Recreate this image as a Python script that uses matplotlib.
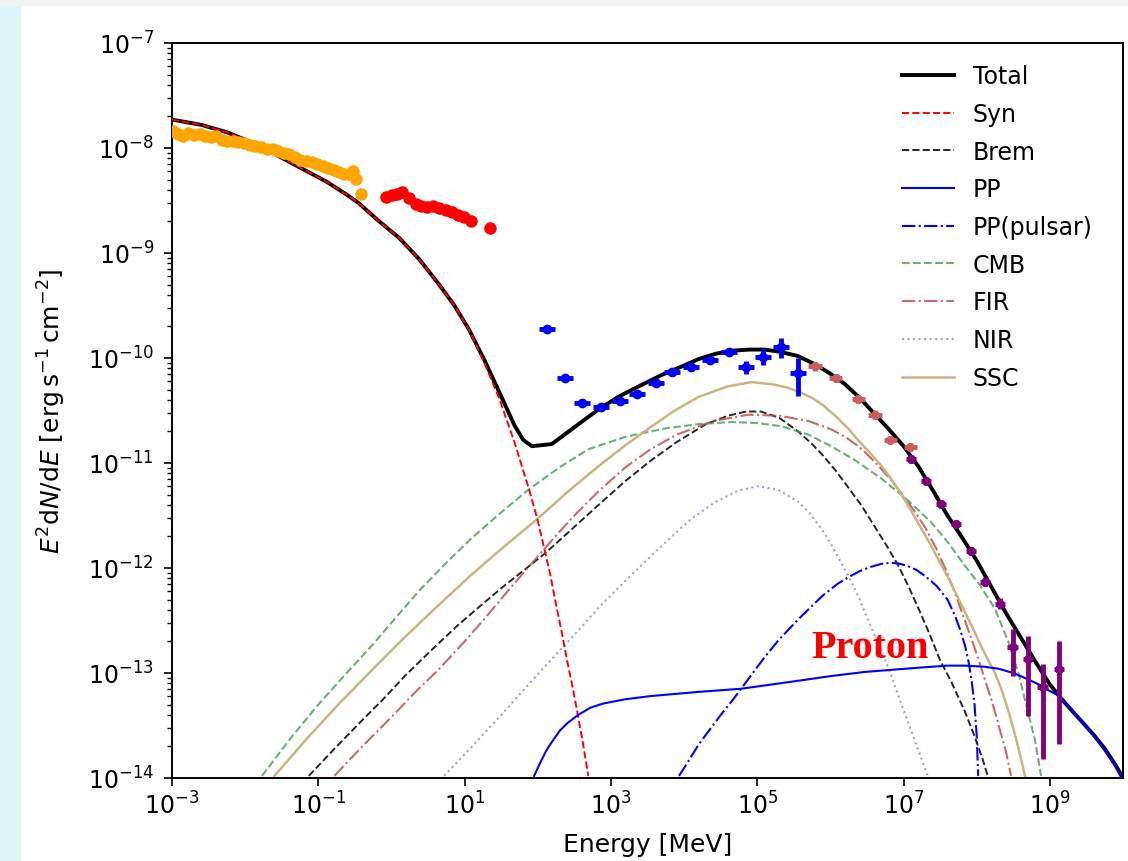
import matplotlib
matplotlib.use("Agg")
import matplotlib.pyplot as plt
from matplotlib.patches import Rectangle
import numpy as np

# ---------------------------------------------------------------------------
# Model curves as (log10 E [MeV], log10 E^2 dN/dE)
# ---------------------------------------------------------------------------

total_logE = [-3.0, -2.6, -2.25, -1.8, -1.35, -0.89, -0.6, -0.44, -0.2, 0.11, 0.38, 0.65,
              0.86, 1.06, 1.27, 1.47, 1.68, 1.8, 1.92, 2.19, 2.5, 2.83, 3.1, 3.38, 3.7, 3.97,
              4.2, 4.43, 4.65, 4.9, 5.1, 5.3, 5.55, 5.79, 6.0, 6.2, 6.4, 6.6, 6.8, 7.0,
              7.2, 7.4, 7.6, 7.8, 8.0, 8.2, 8.4, 8.6, 8.8, 9.0, 9.2, 9.42, 9.6, 9.75, 9.9,
              10.0]
total_logF = [-7.73, -7.78, -7.85, -7.98, -8.15, -8.32, -8.45, -8.53, -8.68, -8.86, -9.06,
              -9.3, -9.5, -9.73, -10.02, -10.32, -10.64, -10.78, -10.84, -10.82, -10.66,
              -10.49, -10.37, -10.27, -10.16, -10.08, -10.01, -9.96, -9.93, -9.92, -9.92,
              -9.94, -9.98, -10.06, -10.15, -10.25, -10.38, -10.53, -10.68, -10.84, -11.03,
              -11.26, -11.5, -11.71, -11.93, -12.18, -12.43, -12.66, -12.89, -13.11, -13.28,
              -13.45, -13.59, -13.72, -13.88, -14.0]

syn_logE = [-3.0, -2.6, -2.25, -1.8, -1.35, -0.89, -0.6, -0.44, -0.2, 0.11, 0.38, 0.65,
            0.86, 1.06, 1.27, 1.47, 1.68, 1.88, 2.0, 2.08, 2.17, 2.25, 2.33, 2.4, 2.48,
            2.55, 2.62, 2.69]
syn_logF = [-7.73, -7.78, -7.85, -7.98, -8.15, -8.32, -8.45, -8.53, -8.68, -8.86, -9.06,
            -9.3, -9.5, -9.73, -10.05, -10.38, -10.8, -11.25, -11.55, -11.79, -12.06,
            -12.35, -12.62, -12.88, -13.15, -13.41, -13.68, -13.98]

brem_logE = [-1.13, -0.75, -0.4, -0.1, 0.18, 0.55, 0.9, 1.2, 1.54, 1.85, 2.1, 2.45, 2.83,
             3.2, 3.54, 3.9, 4.3, 4.6, 4.85, 5.05, 5.3, 5.56, 5.75, 5.9, 6.08, 6.24, 6.42,
             6.6, 6.78, 6.93, 7.07, 7.2, 7.35, 7.5, 7.65, 7.84, 7.98, 8.08, 8.15]
brem_logF = [-13.98, -13.7, -13.45, -13.24, -13.03, -12.78, -12.55, -12.37, -12.17, -12.0,
             -11.86, -11.64, -11.4, -11.17, -10.98, -10.8, -10.63, -10.55, -10.51, -10.51,
             -10.57, -10.7, -10.82, -10.93, -11.08, -11.23, -11.4, -11.6, -11.8, -11.98,
             -12.18, -12.38, -12.62, -12.88, -13.08, -13.37, -13.62, -13.82, -13.98]

pp_logE = [1.95, 2.03, 2.1, 2.16, 2.22, 2.3, 2.4, 2.55, 2.72, 2.9, 3.2, 3.54, 4.2, 4.78,
           5.5, 6.0, 6.47, 7.2, 7.6, 7.84, 8.1, 8.3, 8.5, 8.7, 8.85, 8.97, 9.1, 9.25, 9.42,
           9.6, 9.75, 9.88, 9.98]
pp_logF = [-13.98, -13.86, -13.76, -13.69, -13.63, -13.55, -13.48, -13.4, -13.33, -13.29,
           -13.25, -13.22, -13.18, -13.15, -13.08, -13.03, -12.99, -12.95, -12.93, -12.93,
           -12.94, -12.96, -13.0, -13.06, -13.11, -13.16, -13.21, -13.31, -13.45, -13.6,
           -13.74, -13.87, -14.0]

psr_logE = [3.93, 4.05, 4.2, 4.35, 4.5, 4.65, 4.78, 4.95, 5.1, 5.3, 5.56, 5.75, 5.9, 6.1,
            6.24, 6.4, 6.55, 6.7, 6.83, 6.95, 7.05, 7.18, 7.3, 7.45, 7.6, 7.7, 7.78, 7.84,
            7.89, 7.93, 7.97, 8.0, 8.02]
psr_logF = [-13.98, -13.85, -13.68, -13.54, -13.4, -13.27, -13.15, -12.99, -12.85, -12.68,
            -12.49, -12.36, -12.26, -12.15, -12.09, -12.03, -11.99, -11.96, -11.95, -11.96,
            -11.98, -12.02, -12.08, -12.17, -12.3, -12.45, -12.6, -12.74, -12.9, -13.07,
            -13.3, -13.6, -13.98]

cmb_logE = [-1.77, -1.4, -1.0, -0.6, -0.27, 0.05, 0.4, 0.75, 1.09, 1.5, 1.88, 2.3, 2.69,
            3.2, 3.75, 4.2, 4.65, 5.0, 5.33, 5.7, 6.01, 6.35, 6.7, 7.05, 7.37, 7.6, 7.84,
            8.05, 8.25, 8.42, 8.57, 8.7, 8.8, 8.88]
cmb_logF = [-13.98, -13.64, -13.3, -12.99, -12.74, -12.48, -12.2, -11.95, -11.72, -11.47,
            -11.25, -11.04, -10.87, -10.75, -10.67, -10.63, -10.61, -10.62, -10.65, -10.73,
            -10.84, -10.98, -11.15, -11.35, -11.56, -11.75, -11.98, -12.17, -12.39, -12.68,
            -13.0, -13.37, -13.65, -13.98]

fir_logE = [-0.78, -0.4, 0.0, 0.3, 0.64, 1.0, 1.3, 1.65, 2.0, 2.25, 2.5, 2.83, 3.2, 3.54,
            3.9, 4.4, 4.88, 5.3, 5.7, 6.01, 6.2, 6.4, 6.55, 6.7, 6.85, 6.95, 7.16, 7.3,
            7.45, 7.6, 7.75, 7.9, 8.02, 8.12, 8.22, 8.3, 8.4, 8.47]
fir_logF = [-13.98, -13.7, -13.42, -13.2, -12.97, -12.7, -12.46, -12.17, -11.89, -11.69,
            -11.5, -11.27, -11.04, -10.87, -10.73, -10.6, -10.54, -10.55, -10.6, -10.68,
            -10.75, -10.85, -10.95, -11.06, -11.18, -11.27, -11.47, -11.62, -11.82, -12.05,
            -12.33, -12.62, -12.86, -13.08, -13.3, -13.5, -13.75, -13.98]

nir_logE = [0.72, 1.1, 1.5, 1.95, 2.36, 2.6, 2.83, 3.2, 3.54, 3.8, 4.1, 4.43, 4.75, 5.02,
            5.3, 5.56, 5.72, 5.85, 6.0, 6.1, 6.2, 6.3, 6.4, 6.47, 6.58, 6.7, 6.82, 6.93,
            7.03, 7.13, 7.23, 7.33]
nir_logF = [-13.98, -13.7, -13.4, -13.05, -12.74, -12.56, -12.38, -12.12, -11.89, -11.72,
            -11.53, -11.37, -11.26, -11.22, -11.26, -11.37, -11.48, -11.6, -11.76, -11.89,
            -12.02, -12.15, -12.3, -12.42, -12.6, -12.8, -13.0, -13.22, -13.41, -13.6,
            -13.79, -13.98]

ssc_logE = [-1.6, -1.15, -0.7, -0.25, 0.18, 0.65, 1.1, 1.55, 2.0, 2.4, 2.83, 3.2, 3.54,
            3.85, 4.2, 4.6, 4.92, 5.2, 5.4, 5.56, 5.75, 5.9, 6.08, 6.24, 6.4, 6.55, 6.7,
            6.83, 6.97, 7.1, 7.23, 7.37, 7.5, 7.6, 7.72, 7.84, 7.95, 8.05, 8.15, 8.25, 8.35,
            8.45, 8.55, 8.66]
ssc_logF = [-13.98, -13.62, -13.28, -12.96, -12.66, -12.35, -12.06, -11.79, -11.53, -11.28,
            -11.03, -10.83, -10.66, -10.51, -10.37, -10.27, -10.23, -10.25, -10.28, -10.32,
            -10.38, -10.45, -10.56, -10.67, -10.8, -10.91, -11.03, -11.15, -11.3, -11.45,
            -11.61, -11.78, -11.95, -12.08, -12.25, -12.42, -12.58, -12.73, -12.87, -13.0,
            -13.18, -13.4, -13.66, -13.98]

# ---------------------------------------------------------------------------
# Data points (log10 E, log10 flux), with error half-widths in dex
# ---------------------------------------------------------------------------

xray_logE = [-2.99, -2.92, -2.85, -2.78, -2.70, -2.62, -2.55, -2.47, -2.40, -2.32, -2.25,
             -2.17, -2.10, -2.02, -1.94, -1.86, -1.78, -1.70, -1.62, -1.55, -1.47, -1.40,
             -1.32, -1.25, -1.17, -1.09, -1.02, -0.94, -0.87, -0.79, -0.72, -0.65, -0.58,
             -0.52, -0.48, -0.41]
xray_logF = [-7.84, -7.87, -7.89, -7.86, -7.88, -7.87, -7.89, -7.90, -7.89, -7.92, -7.93,
             -7.93, -7.94, -7.95, -7.97, -7.98, -7.99, -8.01, -8.01, -8.03, -8.05, -8.06,
             -8.09, -8.11, -8.12, -8.13, -8.15, -8.17, -8.19, -8.21, -8.23, -8.25, -8.25,
             -8.22, -8.30, -8.44]

mev_logE = [-0.07, 0.01, 0.08, 0.15, 0.24, 0.33, 0.41, 0.49, 0.57, 0.65, 0.75, 0.83, 0.91,
            0.99, 1.09, 1.34]
mev_logF = [-8.47, -8.45, -8.44, -8.42, -8.48, -8.53, -8.55, -8.56, -8.55, -8.57, -8.59,
            -8.61, -8.64, -8.66, -8.70, -8.76]

lat_logE = [2.13, 2.37, 2.6, 2.86, 3.12, 3.35, 3.61, 3.83, 4.1, 4.36, 4.61, 4.84, 5.08,
            5.33, 5.56]
lat_logF = [-9.72, -10.19, -10.43, -10.47, -10.41, -10.34, -10.24, -10.13, -10.09, -10.02,
            -9.94, -10.09, -9.99, -9.90, -10.14]
lat_err_lo = [0.02, 0.02, 0.02, 0.02, 0.02, 0.02, 0.02, 0.02, 0.02, 0.02, 0.03, 0.06, 0.08,
              0.10, 0.22]
lat_err_hi = [0.02, 0.02, 0.02, 0.02, 0.02, 0.02, 0.02, 0.02, 0.02, 0.02, 0.03, 0.06, 0.08,
              0.09, 0.14]

hess_logE = [5.79, 6.07, 6.38, 6.61, 6.82, 7.09]
hess_logF = [-10.08, -10.19, -10.39, -10.54, -10.78, -10.85]

lhaaso_logE = [7.10, 7.31, 7.51, 7.72, 7.92, 8.11, 8.32, 8.49, 8.70, 8.90, 9.12]
lhaaso_logF = [-10.96, -11.17, -11.39, -11.58, -11.84, -12.13, -12.34, -12.75, -12.87,
               -13.13, -12.96]
lhaaso_err_lo = [0.04, 0.04, 0.04, 0.04, 0.04, 0.04, 0.05, 0.28, 0.54, 0.69, 0.72]
lhaaso_err_hi = [0.04, 0.04, 0.04, 0.04, 0.04, 0.04, 0.05, 0.17, 0.22, 0.22, 0.26]

x_tick_exp = [-3, -1, 1, 3, 5, 7, 9]
y_tick_exp = [-14, -13, -12, -11, -10, -9, -8, -7]


def _lin(logv):
    return 10.0 ** np.asarray(logv, dtype=float)


def _errpoints(ax, logE, logF, color, dx, dlo, dhi, ms=5, elw=2.5, zorder=5):
    """Errorbar points given in log space; errors are half-widths in dex."""
    e = np.asarray(logE, dtype=float)
    f = np.asarray(logF, dtype=float)
    dlo = np.broadcast_to(np.asarray(dlo, dtype=float), f.shape)
    dhi = np.broadcast_to(np.asarray(dhi, dtype=float), f.shape)
    x = 10 ** e
    y = 10 ** f
    xerr = [x - 10 ** (e - dx), 10 ** (e + dx) - x]
    yerr = [y - 10 ** (f - dlo), 10 ** (f + dhi) - y]
    ax.errorbar(x, y, xerr=xerr, yerr=yerr, fmt="o", ms=ms, color=color,
                elinewidth=elw, capsize=0, zorder=zorder)


plt.rcParams["font.family"] = ["DejaVu Sans"]
plt.rcParams["mathtext.fontset"] = "dejavusans"

fig = plt.figure(figsize=(11.28, 8.62), dpi=100)
fig.patches.append(Rectangle((0, 0), 0.018, 1, transform=fig.transFigure,
                             color="#dcf5f9", zorder=-10))
fig.patches.append(Rectangle((0, 0.993), 1, 0.007, transform=fig.transFigure,
                             color="#f2f2f2", zorder=-10))
ax = fig.add_axes([0.1525, 0.0963, 0.9956 - 0.1525, 0.949 - 0.0963])

ax.plot(_lin(total_logE), _lin(total_logF), color="black", lw=2.8, label="Total", zorder=3)
ax.plot(_lin(syn_logE), _lin(syn_logF), color="red", ls="--", lw=1.4, label="Syn", zorder=4)
ax.plot(_lin(brem_logE), _lin(brem_logF), color="black", ls="--", lw=1.4, alpha=0.85,
        label="Brem")
ax.plot(_lin(pp_logE), _lin(pp_logF), color="blue", lw=1.5, label="PP", zorder=4)
ax.plot(_lin(psr_logE), _lin(psr_logF), color="blue", ls="-.", lw=1.5, label="PP(pulsar)")
ax.plot(_lin(cmb_logE), _lin(cmb_logF), color="#3f9f4f", ls="--", lw=1.5, alpha=0.8,
        label="CMB")
ax.plot(_lin(fir_logE), _lin(fir_logF), color="#c0504d", ls="-.", lw=1.5, alpha=0.85,
        label="FIR")
ax.plot(_lin(nir_logE), _lin(nir_logF), color="#6a5acd", ls=":", lw=1.5, alpha=0.6,
        label="NIR")
ax.plot(_lin(ssc_logE), _lin(ssc_logF), color="#cdb380", lw=1.8, label="SSC")

_errpoints(ax, xray_logE, xray_logF, "orange", 0.04, 0.04, 0.04, ms=8, elw=3)
_errpoints(ax, mev_logE, mev_logF, "red", 0.04, 0.035, 0.035, ms=8, elw=3)
_errpoints(ax, lat_logE, lat_logF, "blue", 0.11, lat_err_lo, lat_err_hi, ms=6, elw=3.5)
_errpoints(ax, hess_logE, hess_logF, "indianred", 0.09, 0.04, 0.04, ms=5.5, elw=3.5)
_errpoints(ax, lhaaso_logE, lhaaso_logF, "purple", 0.07, lhaaso_err_lo, lhaaso_err_hi,
           ms=5.5, elw=3.5)

ax.text(10 ** 5.74, 10 ** -12.85, "Proton", color="red", fontsize=29, fontweight="bold",
        family=["Liberation Serif", "DejaVu Serif"], ha="left", va="baseline")

ax.set_xscale("log")
ax.set_yscale("log")
ax.set_xlim(1e-3, 1e10)
ax.set_ylim(1e-14, 1e-7)
ax.set_xticks(_lin(x_tick_exp))
ax.set_xticklabels([rf"$10^{{{p}}}$" for p in x_tick_exp])
ax.xaxis.set_minor_locator(matplotlib.ticker.NullLocator())
ax.set_yticks(_lin(y_tick_exp))
ax.set_yticklabels([rf"$10^{{{p}}}$" for p in y_tick_exp])
y_minor = [m * 10.0 ** p for p in y_tick_exp[:-1] for m in range(2, 10)]
ax.set_yticks(y_minor, minor=True)
ax.yaxis.set_minor_formatter(matplotlib.ticker.NullFormatter())
ax.tick_params(labelsize=17, length=6, width=1.2)
ax.tick_params(axis="y", pad=7)
ax.tick_params(which="minor", length=3.5, width=1.0)
for sp in ax.spines.values():
    sp.set_linewidth(1.4)

ax.set_xlabel("Energy [MeV]", fontsize=18, labelpad=10)
ax.set_ylabel(r"$E^2{\rm d}N/{\rm d}E$ [${\rm erg\,s^{-1}\,cm^{-2}}$]", fontsize=18,
              labelpad=14)

ax.legend(loc="upper right", bbox_to_anchor=(0.9905, 1.0), frameon=False, fontsize=17,
          handlelength=2.2, labelspacing=0.58, borderaxespad=0.5)

fig.savefig("out.png", dpi=100)
